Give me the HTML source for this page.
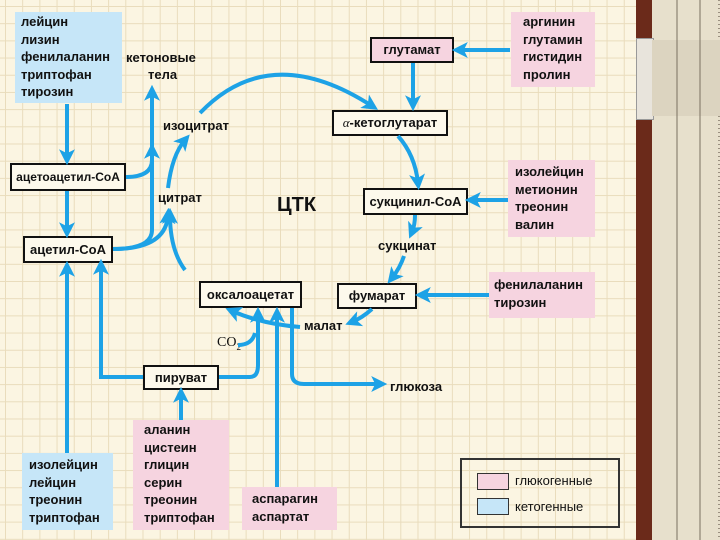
<!DOCTYPE html>
<html><head><meta charset="utf-8"><style>
body{margin:0;width:720px;height:540px;overflow:hidden;font-family:"Liberation Sans",sans-serif;}
#bg{position:absolute;left:0;top:0;width:636px;height:540px;background-color:#fbf5e2;
background-image:linear-gradient(#e9dcbc 1px,transparent 1px),linear-gradient(90deg,#e9dcbc 1px,transparent 1px);background-size:17.2px 17.2px;background-position:5px 6px;}
.t{position:absolute;font-weight:bold;font-size:13px;color:#111;line-height:17.5px;white-space:nowrap;}
.bx{position:absolute;border:2px solid #111;box-sizing:border-box;font-weight:bold;font-size:13px;color:#111;text-align:center;white-space:nowrap;}
.pk{position:absolute;background:#f6d4e0;}
.bl{position:absolute;background:#c6e6f8;}
</style></head><body>
<div id="bg"></div>
<div style="position:absolute;left:636px;top:0;width:16px;height:540px;background:#6b2a1a"></div>
<div style="position:absolute;left:652px;top:0;width:68px;height:540px;background:#e7e0cc;background-image:repeating-linear-gradient(#9a9080 0 1px,transparent 1px 4px);background-size:10px 4px;background-repeat:repeat-y;background-position:66px 0"></div>
<div style="position:absolute;left:636px;top:38px;width:16px;height:80px;background:#e8e4dc;border:1px solid #999"></div>
<div style="position:absolute;left:652px;top:40px;width:68px;height:76px;background:#dcd4c0"></div>
<svg width="720" height="540" style="position:absolute;left:0;top:0">
<g stroke="#7a7060" stroke-width="1">
<line x1="677" y1="0" x2="677" y2="540"/>
<line x1="700" y1="0" x2="700" y2="540"/>
</g>
</svg>
<div class="bl" style="left:15px;top:12px;width:107px;height:91px"></div>
<div class="t" style="left:21px;top:13px">лейцин<br>лизин<br>фенилаланин<br>триптофан<br>тирозин</div>
<div class="t" style="left:126px;top:49px">кетоновые</div>
<div class="t" style="left:148px;top:66px">тела</div>
<div class="bx" style="left:10px;top:163px;width:116px;height:28px;line-height:24px;background:#fdf9ec;font-size:12px">ацетоацетил-CoA</div>
<div class="bx" style="left:23px;top:236px;width:90px;height:27px;line-height:23px;background:#fdf9ec">ацетил-CoA</div>
<div class="t" style="left:163px;top:117px">изоцитрат</div>
<div class="t" style="left:158px;top:189px">цитрат</div>
<div class="t" style="left:277px;top:193px;font-size:20px;line-height:24px">ЦТК</div>
<div class="bx" style="left:370px;top:37px;width:84px;height:26px;line-height:22px;background:#f6d4e0">глутамат</div>
<div class="bx" style="left:332px;top:110px;width:116px;height:26px;line-height:22px;background:#fdf9ec"><i style="font-family:'Liberation Serif',serif;font-weight:normal">α</i>-кетоглутарат</div>
<div class="pk" style="left:511px;top:12px;width:84px;height:75px"></div>
<div class="t" style="left:523px;top:13px">аргинин<br>глутамин<br>гистидин<br>пролин</div>
<div class="pk" style="left:508px;top:160px;width:87px;height:77px"></div>
<div class="t" style="left:515px;top:163px">изолейцин<br>метионин<br>треонин<br>валин</div>
<div class="bx" style="left:363px;top:188px;width:105px;height:27px;line-height:23px;background:#fdf9ec">сукцинил-CoA</div>
<div class="t" style="left:378px;top:237px">сукцинат</div>
<div class="bx" style="left:337px;top:283px;width:80px;height:26px;line-height:22px;background:#fdf9ec">фумарат</div>
<div class="pk" style="left:489px;top:272px;width:106px;height:46px"></div>
<div class="t" style="left:494px;top:276px">фенилаланин<br>тирозин</div>
<div class="bx" style="left:199px;top:281px;width:103px;height:27px;line-height:23px;background:#fdf9ec">оксалоацетат</div>
<div class="t" style="left:304px;top:317px">малат</div>
<div class="t" style="left:217px;top:334px;font-family:'Liberation Serif',serif;font-weight:normal;font-size:14px">CO<sub style="font-size:9px">2</sub></div>
<div class="bx" style="left:143px;top:365px;width:76px;height:25px;line-height:21px;background:#fdf9ec">пируват</div>
<div class="t" style="left:390px;top:378px">глюкоза</div>
<div class="pk" style="left:133px;top:420px;width:96px;height:110px"></div>
<div class="t" style="left:144px;top:421px">аланин<br>цистеин<br>глицин<br>серин<br>треонин<br>триптофан</div>
<div class="bl" style="left:22px;top:453px;width:91px;height:77px"></div>
<div class="t" style="left:29px;top:456px">изолейцин<br>лейцин<br>треонин<br>триптофан</div>
<div class="pk" style="left:242px;top:487px;width:95px;height:43px"></div>
<div class="t" style="left:252px;top:490px">аспарагин<br>аспартат</div>
<div style="position:absolute;left:460px;top:458px;width:160px;height:70px;border:2px solid #333;box-sizing:border-box"></div>
<div style="position:absolute;left:477px;top:473px;width:30px;height:15px;background:#f6d4e0;border:1px solid #333"></div>
<div style="position:absolute;left:477px;top:498px;width:30px;height:15px;background:#c6e6f8;border:1px solid #333"></div>
<div class="t" style="left:515px;top:472px;font-weight:normal">глюкогенные</div>
<div class="t" style="left:515px;top:498px;font-weight:normal">кетогенные</div>
<svg width="720" height="540" style="position:absolute;left:0;top:0">
<defs><marker id="a" markerWidth="4" markerHeight="4" refX="2.2" refY="2" orient="auto" markerUnits="strokeWidth"><path d="M0,0 L4,2 L0,4 L1,2z" fill="#1da2e6"/></marker></defs>
<g fill="none" stroke="#1da2e6" stroke-width="4" marker-end="url(#a)">
<path d="M67 104 V158"/>
<path d="M67 191 V231"/>
<path d="M126 177 Q152 177 152 160 V92"/>
<path d="M113 249 Q152 249 152 230 V150"/>
<path d="M113 249 Q166 249 168 215"/>
<path d="M168 188 Q172 155 185 140"/>
<path d="M200 113 Q270 40 372 106"/>
<path d="M510 50 H459"/>
<path d="M413 63 V104"/>
<path d="M398 136 Q415 155 418 183"/>
<path d="M508 200 H472"/>
<path d="M415 215 Q415 225 412 232"/>
<path d="M404 256 Q400 268 392 278"/>
<path d="M489 295 H422"/>
<path d="M372 309 Q362 318 352 322"/>
<path d="M300 327 Q262 324 232 311"/>
<path d="M185 270 Q170 250 170 215"/>
<path d="M143 377 H101 V266"/>
<path d="M181 420 V394"/>
<path d="M219 377 H250 Q258 377 258 365 V314"/>
<path d="M238 345 Q252 345 255 333" marker-end="none"/>
<path d="M277 487 V314"/>
<path d="M292 308 V374 Q292 384 304 384 H380"/>
<path d="M67 453 V268"/>
</g>
</svg>
</body></html>
